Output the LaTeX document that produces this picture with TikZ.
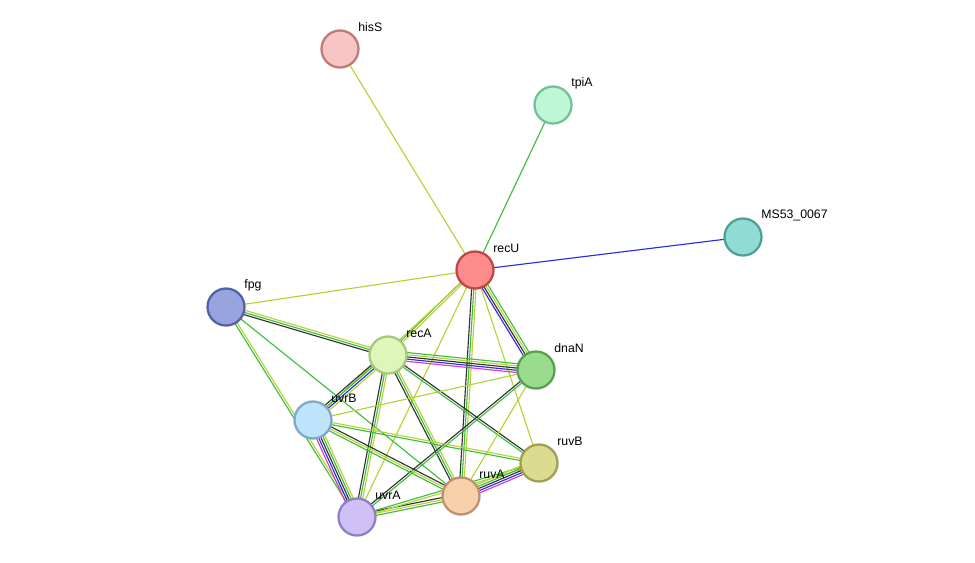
\documentclass[tikz,border=0pt]{standalone}
\usepackage{fontspec}
\setmainfont{Liberation Sans}
\usetikzlibrary{calc}
\definecolor{cyg}{HTML}{B5D334}
\definecolor{cgr}{HTML}{3DBE3D}
\definecolor{cbl}{HTML}{2D2DE0}
\definecolor{cmg}{HTML}{D03ED0}
\definecolor{cbk}{HTML}{333333}
% node fill / border colours
\definecolor{fhisS}{HTML}{F9C4C4}\definecolor{bhisS}{HTML}{C07A7A}
\definecolor{ftpiA}{HTML}{BDF7D6}\definecolor{btpiA}{HTML}{72C295}
\definecolor{fms}{HTML}{8FDDD5}\definecolor{bms}{HTML}{4FA098}
\definecolor{frecU}{HTML}{FF8C8C}\definecolor{brecU}{HTML}{C04545}
\definecolor{ffpg}{HTML}{98A4E0}\definecolor{bfpg}{HTML}{5262A2}
\definecolor{frecA}{HTML}{DDF7B8}\definecolor{brecA}{HTML}{A8C880}
\definecolor{fdnaN}{HTML}{98DC8C}\definecolor{bdnaN}{HTML}{58A050}
\definecolor{fuvrB}{HTML}{BDE4FB}\definecolor{buvrB}{HTML}{80A8C8}
\definecolor{fruvB}{HTML}{DCDC90}\definecolor{bruvB}{HTML}{A0A050}
\definecolor{fruvA}{HTML}{F5D0A8}\definecolor{bruvA}{HTML}{C09070}
\definecolor{fuvrA}{HTML}{D0C0F8}\definecolor{buvrA}{HTML}{9080C0}
\tikzset{
  prot/.style={circle, draw=b#1, fill=f#1, line width=1.3pt, minimum size=0.74cm, inner sep=0pt},
  lbl/.style={anchor=west, font=\fontsize{7}{8}\selectfont, inner sep=0pt},
  ln/.style={line width=0.65pt}
}
% multi-coloured edge: from, to, number of lines, colours
\newcommand\medge[4]{%
  \foreach \c [count=\i] in {#4} {%
    \pgfmathsetmacro\o{(\i-(#3+1)/2)*1.25}
    \draw[ln, \c] ($(#1)!\o pt!90:(#2)$) -- ($(#2)!\o pt!-90:(#1)$);
  }}
\begin{document}
\begin{tikzpicture}[x=0.02cm, y=-0.02cm]
  \useasboundingbox (0,0) rectangle (975,562);
  % Positions
  \coordinate (hisS) at (340,49);
  \coordinate (tpiA) at (553,105);
  \coordinate (ms) at (743,237);
  \coordinate (recU) at (475,270);
  \coordinate (fpg) at (226,307);
  \coordinate (recA) at (388,355);
  \coordinate (dnaN) at (536,370);
  \coordinate (uvrB) at (313,420);
  \coordinate (ruvB) at (539,463);
  \coordinate (ruvA) at (461,496);
  \coordinate (uvrA) at (357,517);
  % Edges
  \medge{recU}{hisS}{1}{cyg}
  \medge{recU}{tpiA}{1}{cgr}
  \medge{recU}{ms}{1}{cbl}
  \medge{recU}{fpg}{1}{cyg}
  \medge{recU}{recA}{2}{cgr,cyg}
  \medge{recU}{dnaN}{4}{cbl,cbk,cyg,cgr}
  \medge{recU}{uvrB}{1}{cyg}
  \medge{recU}{uvrA}{1}{cyg}
  \medge{recU}{ruvA}{3}{cbk,cgr,cyg}
  \medge{recU}{ruvB}{1}{cyg}
  \medge{fpg}{recA}{3}{cbk,cgr,cyg}
  \medge{fpg}{uvrA}{2}{cgr,cyg}
  \medge{fpg}{ruvA}{1}{cgr}
  \medge{recA}{dnaN}{5}{cmg,cbl,cbk,cyg,cgr}
  \medge{recA}{uvrB}{4}{cbk,cgr,cbl,cyg}
  \medge{recA}{uvrA}{3}{cbk,cgr,cyg}
  \medge{recA}{ruvA}{3}{cbk,cgr,cyg}
  \medge{recA}{ruvB}{2}{cgr,cbk}
  \medge{dnaN}{uvrB}{1}{cyg}
  \medge{dnaN}{uvrA}{2}{cbk,cgr}
  \medge{dnaN}{ruvA}{1}{cyg}
  \medge{uvrB}{uvrA}{5}{cmg,cbl,cbk,cgr,cyg}
  \medge{uvrB}{ruvA}{3}{cgr,cyg,cbk}
  \medge{uvrB}{ruvB}{2}{cgr,cyg}
  \medge{uvrA}{ruvA}{3}{cgr,cyg,cbk}
  \medge{uvrA}{ruvB}{2}{cyg,cgr}
  \medge{ruvA}{ruvB}{5}{cmg,cbl,cbk,cgr,cyg}
  % Nodes and labels
  \foreach \n/\t in {hisS/hisS, tpiA/tpiA, ms/MS53\_0067, recU/recU, fpg/fpg,
    recA/recA, dnaN/dnaN, uvrB/uvrB, ruvB/ruvB, ruvA/ruvA, uvrA/uvrA} {
    \node[prot=\n] (n-\n) at (\n) {};
    \node[lbl] (l-\n) at ($(\n)+(18,-22)$) {\t};
  }
\end{tikzpicture}
\end{document}
